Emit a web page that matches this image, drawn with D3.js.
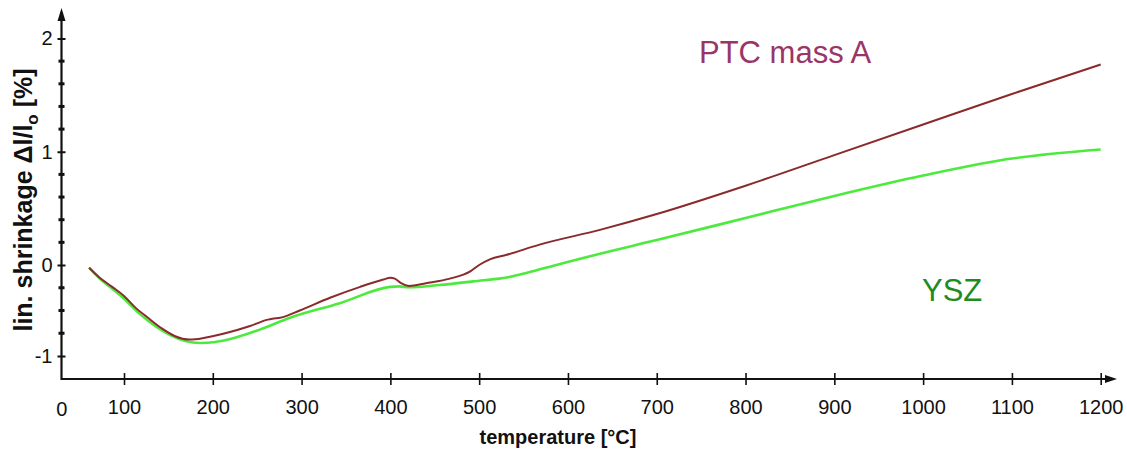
<!DOCTYPE html>
<html>
<head>
<meta charset="utf-8">
<script src="https://cdn.jsdelivr.net/npm/d3@7"></script>
<style>
  body { margin: 0; background: #fff; }
  svg { display: block; }
</style>
</head>
<body>
<div id="chart"></div>
<script>
// values (temperature in °C, shrinkage in %)
const ptcTemp   = [44, 61, 81, 100, 112, 127, 143, 157, 174, 191, 214, 242, 262, 267, 276, 298, 332, 366, 392, 400, 405, 412, 421, 440, 467, 490, 500, 512, 531, 568, 636, 700, 800, 900, 1000, 1100, 1200]
const ptcShrink = [-0.03, -0.14, -0.24, -0.34, -0.46, -0.58, -0.70, -0.78, -0.82, -0.80, -0.75, -0.67, -0.60, -0.59, -0.58, -0.50, -0.36, -0.24, -0.16, -0.14, -0.15, -0.20, -0.23, -0.20, -0.15, -0.07, 0.00, 0.05, 0.09, 0.18, 0.31, 0.45, 0.70, 0.97, 1.24, 1.51, 1.77]

const yszTemp   = [44, 61, 81, 100, 118, 135, 152, 169, 186, 203, 225, 253, 287, 343, 400, 410, 421, 455, 493, 535, 554, 587, 636, 700, 800, 900, 1000, 1100, 1200]
const yszShrink = [-0.03, -0.15, -0.26, -0.37, -0.54, -0.67, -0.77, -0.835, -0.857, -0.846, -0.80, -0.71, -0.58, -0.42, -0.24, -0.235, -0.245, -0.22, -0.18, -0.13, -0.085, 0.00, 0.10, 0.22, 0.415, 0.61, 0.79, 0.94, 1.02]

const xTicks = [100, 200, 300, 400, 500, 600, 700, 800, 900, 1000, 1100, 1200]
const yMajor = [-1, 0, 1, 2]
const yMinor = [-0.75, -0.5, -0.25, 0.2, 0.4, 0.6, 0.8, 1.2, 1.4, 1.6, 1.8]

const width = 1127, height = 451

// the original axes are not uniform below 100 °C and below 0 %
const x = d3.scaleLinear().domain([0, 100, 1200]).range([61.7, 124, 1100.7])
const y = d3.scaleLinear().domain([-1, 0, 2]).range([356, 265, 38.5])

const axisY = 379, axisX = 61.5

const svg = d3.select('#chart').append('svg')
  .attr('width', width)
  .attr('height', height)
  .style('font-family', '"Liberation Sans", Arial, sans-serif')

// axis lines with arrow heads
svg.append('line')
  .attr('x1', axisX).attr('y1', axisY)
  .attr('x2', 1108).attr('y2', axisY)
  .attr('stroke', '#111').attr('stroke-width', 2.2)
svg.append('path')
  .attr('d', `M1117,${axisY} L1105,${axisY - 4} L1105,${axisY + 4} Z`)
  .attr('fill', '#111')

svg.append('line')
  .attr('x1', axisX).attr('y1', axisY + 1)
  .attr('x2', axisX).attr('y2', 18)
  .attr('stroke', '#111').attr('stroke-width', 2.2)
svg.append('path')
  .attr('d', `M${axisX},8 L${axisX - 4},21 L${axisX + 4},21 Z`)
  .attr('fill', '#111')

// x axis ticks and labels
const xAxis = svg.append('g')
  .attr('transform', `translate(0,${axisY})`)
  .call(d3.axisBottom(x).tickValues(xTicks).tickFormat(d3.format('d')).tickSize(6).tickPadding(15))
xAxis.select('.domain').remove()
xAxis.selectAll('.tick line')
  .attr('y1', -6).attr('y2', 6)
  .attr('stroke', '#111').attr('stroke-width', 1.6)
xAxis.selectAll('.tick text')
  .attr('font-size', 20)
  .attr('font-family', '"Liberation Sans", Arial, sans-serif')
  .attr('fill', '#111')

svg.append('text')
  .attr('x', x(0))
  .attr('y', 416)
  .attr('text-anchor', 'middle')
  .attr('font-size', 20)
  .attr('fill', '#111')
  .text('0')

// y axis ticks and labels
const yAxis = svg.append('g')
  .attr('transform', `translate(${axisX},0)`)
  .call(d3.axisLeft(y).tickValues(yMajor).tickFormat(d3.format('d')).tickSize(4).tickPadding(5))
yAxis.select('.domain').remove()
yAxis.selectAll('.tick line')
  .attr('x1', -4).attr('x2', 4)
  .attr('stroke', '#111').attr('stroke-width', 2)
yAxis.selectAll('.tick text')
  .attr('font-size', 20)
  .attr('font-family', '"Liberation Sans", Arial, sans-serif')
  .attr('fill', '#111')
  .text(d => d < 0 ? '-' + Math.abs(d) : d)

svg.append('g').selectAll('rect')
  .data(yMinor)
  .join('rect')
  .attr('x', axisX - 3)
  .attr('y', d => y(d) - 1.5)
  .attr('width', 6)
  .attr('height', 3)
  .attr('fill', '#111')

// axis titles
svg.append('text')
  .attr('x', 558)
  .attr('y', 444)
  .attr('text-anchor', 'middle')
  .attr('font-size', 20)
  .attr('font-weight', 'bold')
  .attr('fill', '#111')
  .text('temperature [°C]')

const yTitle = svg.append('text')
  .attr('transform', 'translate(32,200) rotate(-90)')
  .attr('text-anchor', 'middle')
  .attr('font-size', 25)
  .attr('font-weight', 'bold')
  .attr('fill', '#111')
yTitle.append('tspan').text('lin. shrinkage Δl/l')
yTitle.append('tspan').attr('font-size', 17).attr('dy', 6).text('o')
yTitle.append('tspan').attr('dy', -6).text(' [%]')

// curves
const line = d3.line()
  .x(d => x(d[0]))
  .y(d => y(d[1]))
  .curve(d3.curveMonotoneX)

const ysz = d3.zip(yszTemp, yszShrink)
const ptc = d3.zip(ptcTemp, ptcShrink)

svg.append('path')
  .datum(ysz)
  .attr('fill', 'none')
  .attr('stroke', '#4cea3c')
  .attr('stroke-width', 2.6)
  .attr('d', line)

svg.append('path')
  .datum(ptc)
  .attr('fill', 'none')
  .attr('stroke', '#8a2a2c')
  .attr('stroke-width', 2)
  .attr('d', line)

// series labels
svg.append('text')
  .attr('x', 699)
  .attr('y', 63)
  .attr('font-size', 31)
  .attr('fill', '#9b3568')
  .text('PTC mass A')

svg.append('text')
  .attr('x', 922)
  .attr('y', 301)
  .attr('font-size', 31)
  .attr('fill', '#1f8c1f')
  .text('YSZ')
</script>
</body>
</html>
